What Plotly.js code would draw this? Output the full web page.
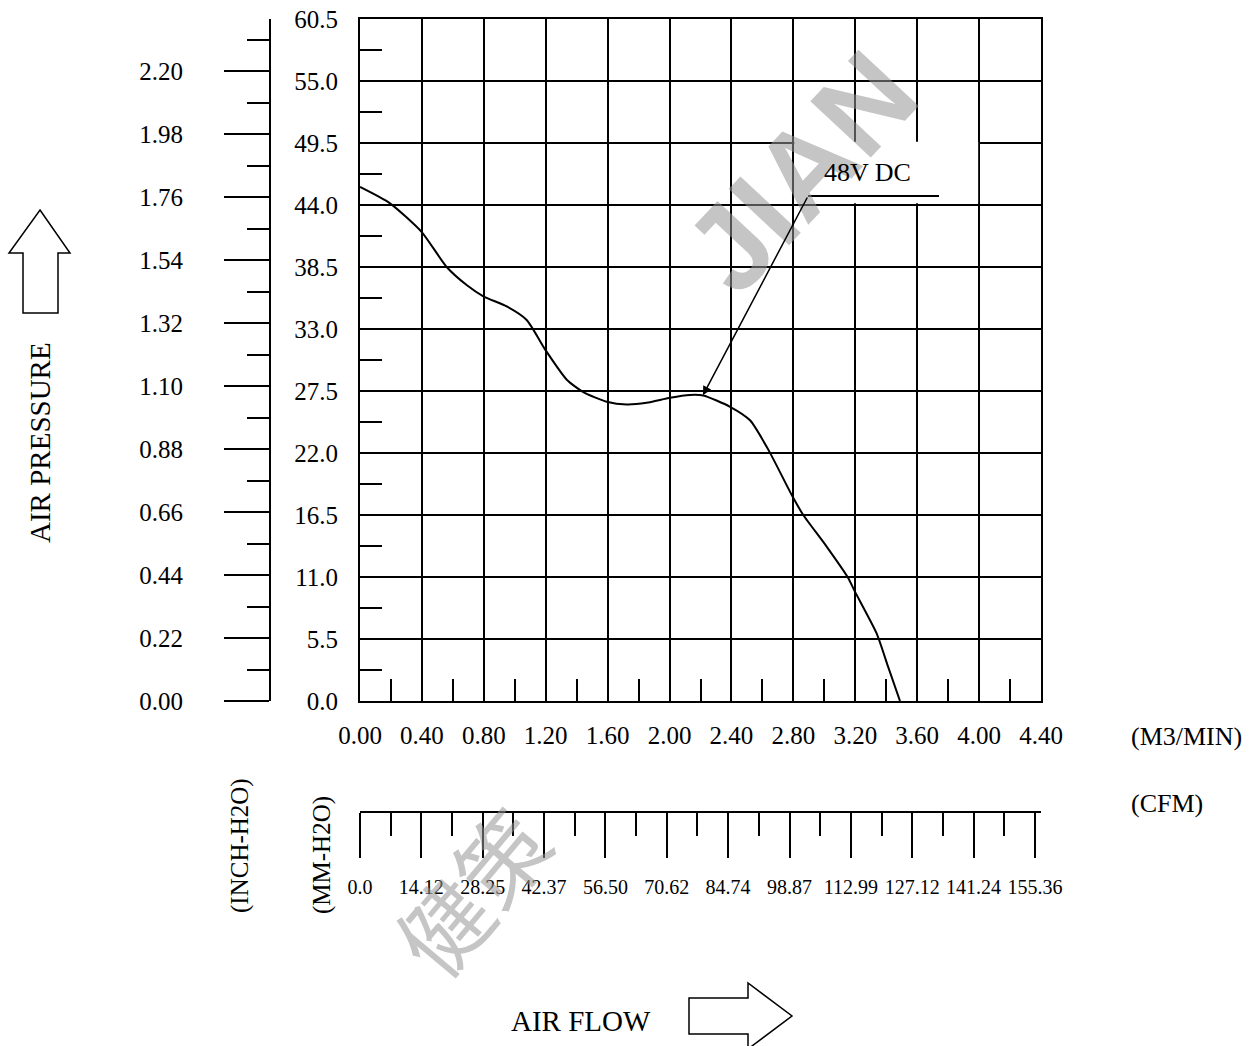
<!DOCTYPE html>
<html>
<head>
<meta charset="utf-8">
<script src="https://cdn.plot.ly/plotly-3.0.1.min.js"></script>
<style>html,body{margin:0;padding:0;background:#fff;}#chart{width:1253px;height:1046px;}</style>
</head>
<body>
<div id="chart"></div>
<script>
// ---- data ----
const flowM3 = [0, 0.194, 0.399, 0.560, 0.689, 0.797, 0.948, 1.077, 1.200, 1.336, 1.443, 1.594, 1.723, 1.852, 2.003, 2.132, 2.218, 2.391, 2.520, 2.638, 2.800, 2.864, 3.015, 3.155, 3.198, 3.338, 3.413, 3.489];
const pressureMM = [45.6, 44.15, 41.6, 38.5, 36.9, 35.9, 35.0, 33.8, 31.1, 28.5, 27.4, 26.55, 26.3, 26.45, 26.9, 27.15, 27.1, 26.1, 24.9, 22.3, 18.0, 16.5, 13.7, 10.9, 9.7, 6.0, 3.0, 0];

const m3Ticks = [0, 0.4, 0.8, 1.2, 1.6, 2.0, 2.4, 2.8, 3.2, 3.6, 4.0, 4.4];
const m3Labels = ['0.00','0.40','0.80','1.20','1.60','2.00','2.40','2.80','3.20','3.60','4.00','4.40'];
const m3Minor = [0.2, 0.6, 1.0, 1.4, 1.8, 2.2, 2.6, 3.0, 3.4, 3.8, 4.2];

const mmTicks = [0, 5.5, 11, 16.5, 22, 27.5, 33, 38.5, 44, 49.5, 55, 60.5];
const mmLabels = ['0.0','5.5','11.0','16.5','22.0','27.5','33.0','38.5','44.0','49.5','55.0','60.5'];
const mmMinor = [2.75, 8.25, 13.75, 19.25, 24.75, 30.25, 35.75, 41.25, 46.75, 52.25, 57.75];

const inchTicks = [0, 0.22, 0.44, 0.66, 0.88, 1.10, 1.32, 1.54, 1.76, 1.98, 2.20];
const inchLabels = ['0.00','0.22','0.44','0.66','0.88','1.10','1.32','1.54','1.76','1.98','2.20'];
const inchMinor = [0.11, 0.33, 0.55, 0.77, 0.99, 1.21, 1.43, 1.65, 1.87, 2.09, 2.31];

const cfmTicks = [0, 14.12, 28.25, 42.37, 56.50, 70.62, 84.74, 98.87, 112.99, 127.12, 141.24, 155.36];
const cfmLabels = ['0.0','14.12','28.25','42.37','56.50','70.62','84.74','98.87','112.99','127.12','141.24','155.36'];
const cfmMinor = [7.06, 21.18, 35.31, 49.43, 63.56, 77.68, 91.80, 105.93, 120.05, 134.18, 148.30];

const seriesName = '48V DC';
const mmMax = 60.5, m3Max = 4.4;
const mmPerInch = 25.4, cfmPerM3 = 35.3147;

// ---- layout helpers ----
const W = 1253, H = 1046;
const px = x => x / W;
const py = y => 1 - y / H;
const FONT = 'Liberation Serif, Times New Roman, serif';

const traces = [
  {x: flowM3, y: pressureMM, type: 'scatter', mode: 'lines', name: seriesName,
   line: {color: '#000', width: 2, shape: 'spline', smoothing: 0.6}, hoverinfo: 'x+y', showlegend: false},
  {x: [], y: [], xaxis: 'x', yaxis: 'y2', type: 'scatter', mode: 'lines', showlegend: false, hoverinfo: 'skip'},
  {x: [], y: [], xaxis: 'x2', yaxis: 'y', type: 'scatter', mode: 'lines', showlegend: false, hoverinfo: 'skip'}
];

const gridAxis = {
  showgrid: true, gridcolor: '#000', gridwidth: 2,
  showline: true, linecolor: '#000', linewidth: 2, mirror: true,
  zeroline: false, ticks: '', fixedrange: true
};

function label(x, y, text, size, angle) {
  return {xref: 'paper', yref: 'paper', x: px(x), y: py(y), text: text, showarrow: false,
          xanchor: 'center', yanchor: 'middle', textangle: angle || 0,
          font: {family: FONT, size: size, color: '#000'}};
}

const layout = {
  width: W, height: H,
  margin: {l: 0, r: 0, t: 0, b: 0, pad: 0},
  paper_bgcolor: '#fff', plot_bgcolor: '#fff',
  showlegend: false,
  font: {family: FONT, color: '#000', size: 25},
  xaxis: Object.assign({}, gridAxis, {
    domain: [px(360), px(1041)], range: [0, m3Max],
    tickmode: 'array', tickvals: m3Ticks, ticktext: m3Labels, tickangle: 0,
    tickfont: {family: FONT, size: 25}, ticklabelstandoff: 11,
    minor: {tickmode: 'array', tickvals: m3Minor, ticks: 'inside', ticklen: 22, tickwidth: 2, tickcolor: '#000', showgrid: false}
  }),
  yaxis: Object.assign({}, gridAxis, {
    domain: [py(701), py(19)], range: [0, mmMax],
    tickmode: 'array', tickvals: mmTicks, ticktext: mmLabels,
    tickfont: {family: FONT, size: 25}, ticklabelstandoff: 15,
    minor: {tickmode: 'array', tickvals: mmMinor, ticks: 'inside', ticklen: 22, tickwidth: 2, tickcolor: '#000', showgrid: false}
  }),
  yaxis2: {
    overlaying: 'y', anchor: 'free', position: px(270), side: 'left',
    range: [0, mmMax / mmPerInch], showgrid: false, zeroline: false,
    showline: true, linecolor: '#000', linewidth: 2,
    tickmode: 'array', tickvals: inchTicks, ticktext: inchLabels,
    ticks: 'outside', ticklen: 45, tickwidth: 2, tickcolor: '#000',
    tickfont: {family: FONT, size: 25}, ticklabelstandoff: 36, fixedrange: true,
    minor: {tickmode: 'array', tickvals: inchMinor, ticks: 'outside', ticklen: 22, tickwidth: 2, tickcolor: '#000', showgrid: false}
  },
  xaxis2: {
    overlaying: 'x', anchor: 'free', position: py(812), side: 'bottom',
    range: [0, m3Max * cfmPerM3 * 681 / 675], showgrid: false, zeroline: false,
    showline: true, linecolor: '#000', linewidth: 2,
    tickmode: 'array', tickvals: cfmTicks, ticktext: cfmLabels, tickangle: 0,
    ticks: 'outside', ticklen: 45, tickwidth: 2, tickcolor: '#000',
    tickfont: {family: FONT, size: 20}, ticklabelstandoff: 12, fixedrange: true,
    minor: {tickmode: 'array', tickvals: cfmMinor, ticks: 'outside', ticklen: 23, tickwidth: 2, tickcolor: '#000', showgrid: false}
  },
  shapes: [
    // white label box behind "48V DC"
    {type: 'rect', xref: 'x', yref: 'y', x0: 2.806, x1: 3.994, y0: 44.15, y1: 49.62,
     fillcolor: '#fff', line: {width: 0}, layer: 'above'},
    // leader line
    {type: 'line', xref: 'x', yref: 'y', x0: 2.895, x1: 3.741, y0: 44.8, y1: 44.8,
     line: {color: '#000', width: 2}, layer: 'above'},
    // up arrow
    {type: 'path', xref: 'paper', yref: 'paper',
     path: `M ${px(40)} ${py(210)} L ${px(70)} ${py(253)} L ${px(58)} ${py(253)} L ${px(58)} ${py(313)} L ${px(23)} ${py(313)} L ${px(23)} ${py(253)} L ${px(9)} ${py(253)} Z`,
     fillcolor: '#fff', line: {color: '#000', width: 1.5}},
    // right arrow
    {type: 'path', xref: 'paper', yref: 'paper',
     path: `M ${px(689)} ${py(998)} L ${px(748)} ${py(998)} L ${px(748)} ${py(983)} L ${px(792)} ${py(1016)} L ${px(748)} ${py(1049)} L ${px(748)} ${py(1034)} L ${px(689)} ${py(1034)} Z`,
     fillcolor: '#fff', line: {color: '#000', width: 1.5}}
  ],
  annotations: [
    // watermark
    {xref: 'paper', yref: 'paper', x: px(800), y: py(172), xanchor: 'center', yanchor: 'middle',
     text: 'JIAN', showarrow: false, textangle: -47,
     font: {family: 'Liberation Sans, Arial, sans-serif', size: 120, weight: 'bold', color: 'rgba(150,150,150,0.55)'}},
    {xref: 'paper', yref: 'paper', x: px(470), y: py(890), xanchor: 'center', yanchor: 'middle',
     text: '健策', showarrow: false, textangle: -50,
     font: {family: 'Noto Sans CJK SC, sans-serif', size: 90, color: 'rgba(150,150,150,0.55)'}},
    // curve label
    {xref: 'x', yref: 'y', x: 3.282, y: 46.84, xanchor: 'center', yanchor: 'middle', text: seriesName, showarrow: false,
     font: {family: FONT, size: 26, color: '#000'}},
    {xref: 'x', yref: 'y', x: 2.216, y: 27.12, ax: 2.895, ay: 44.8, axref: 'x', ayref: 'y',
     text: '', showarrow: true, arrowhead: 2, arrowsize: 1.2, arrowwidth: 1.5, arrowcolor: '#000', standoff: 0},
    // axis titles / units
    label(40, 443, 'AIR PRESSURE', 29, -90),
    label(581, 1021, 'AIR FLOW', 29),
    label(1186, 736, '(M3/MIN)', 26),
    label(1167, 803, '(CFM)', 26),
    label(240, 846, '(INCH-H2O)', 25, -90),
    label(322, 855, '(MM-H2O)', 25, -90)
  ]
};

Plotly.newPlot('chart', traces, layout, {staticPlot: true, displayModeBar: false});
</script>
</body>
</html>
